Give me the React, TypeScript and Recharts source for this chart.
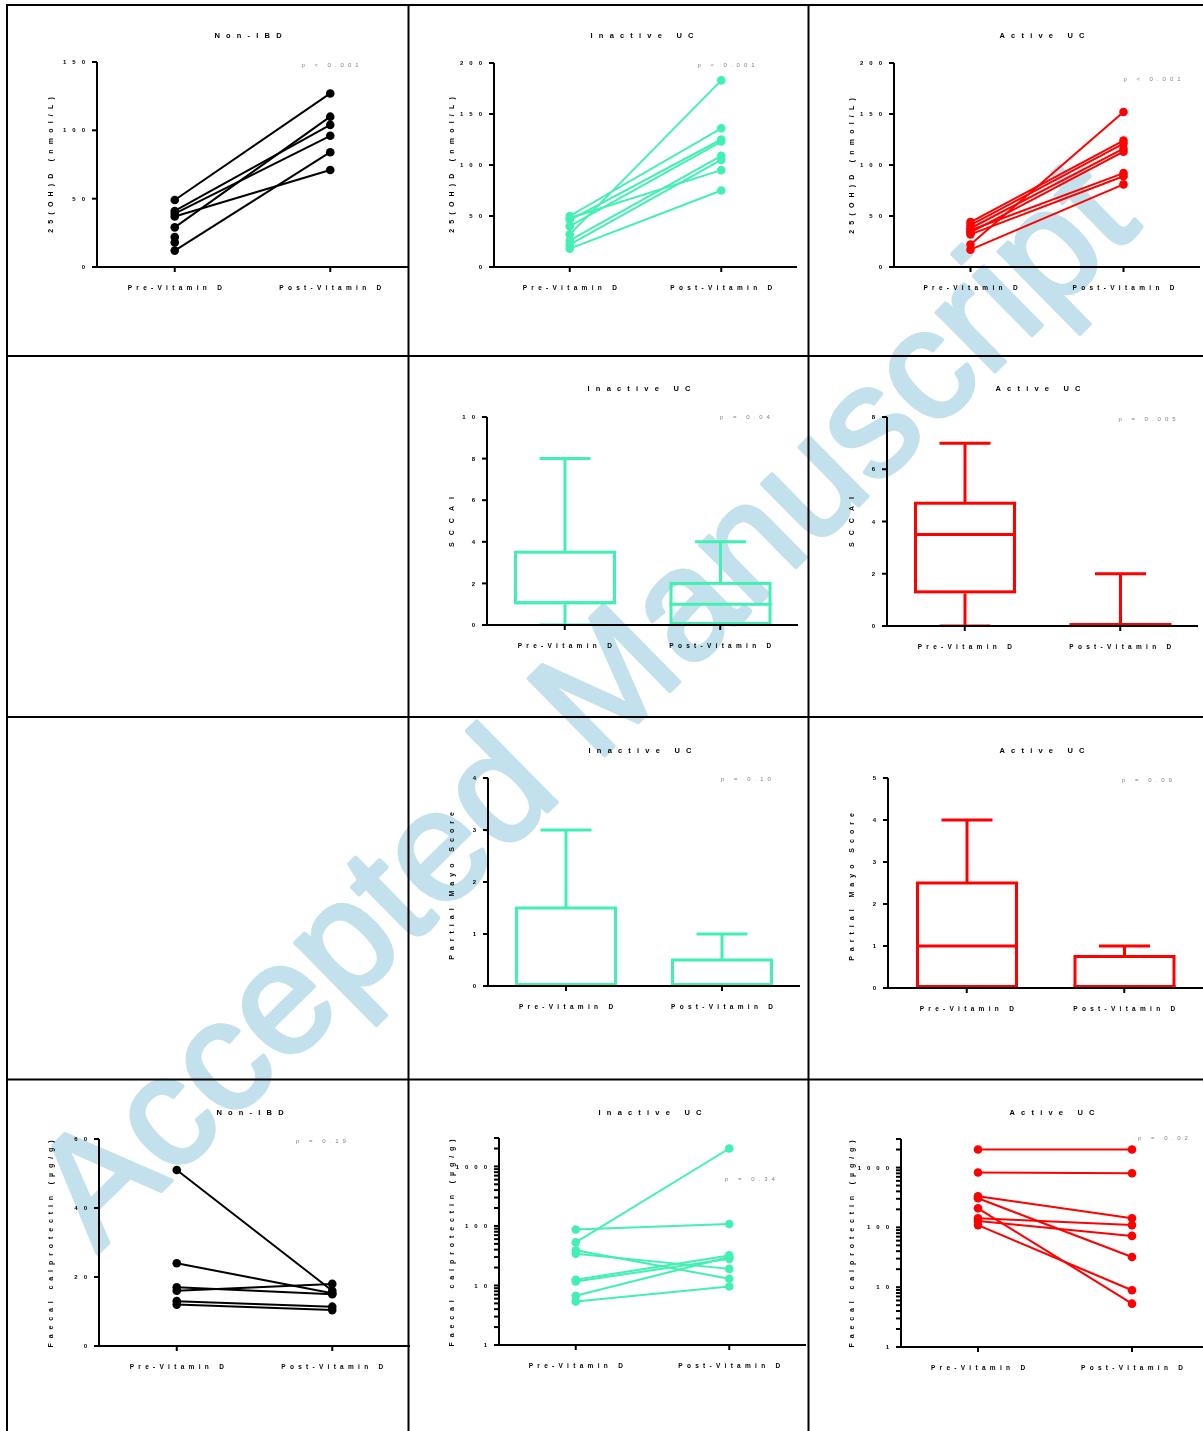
import React from 'react';
import { LineChart, Line, XAxis, YAxis, ComposedChart, Bar } from 'recharts';

const categories = ['Pre-Vitamin D', 'Post-Vitamin D'];

// 25(OH)D (nmol/L), one entry per patient, pre / post
const nonIbdVitDPre = [49, 41, 39, 37, 29, 12, 22, 18];
const nonIbdVitDPost = [127, 104, 96, 71, 110, 84, null, null];
const inactiveVitDPre = [32, 50, 46, 40, 26, 22, 48, 18];
const inactiveVitDPost = [183, 136, 125, 123, 109, 105, 95, 75];
const activeVitDPre = [22, 44, 41, 38, 34, 36, 32, 17];
const activeVitDPost = [152, 124, 121, 116, 113, 92, 89, 81];

// five-number summaries: min, q1, median, q3, max
const sccaiInactivePre = [0, 1, 1, 3.5, 8];
const sccaiInactivePost = [0, 0, 1, 2, 4];
const sccaiActivePre = [0, 1.25, 3.5, 4.7, 7];
const sccaiActivePost = [0, 0, 0, 0, 2];
const mayoInactivePre = [0, 0, 0, 1.5, 3];
const mayoInactivePost = [0, 0, 0, 0.5, 1];
const mayoActivePre = [0, 0, 1, 2.5, 4];
const mayoActivePost = [0, 0, 0, 0.75, 1];

// faecal calprotectin (µg/g)
const nonIbdFcPre = [51, 24, 17, 16, 13, 12];
const nonIbdFcPost = [16, 15.3, 15, 18, 11.4, 10.4];
const inactiveFcPre = [87, 53, 39, 34, 12.5, 11.7, 6.7, 5.4];
const inactiveFcPost = [108, 2000, 13, 19, 32, 28, 30, 9.6];
const activeFcPre = [2000, 825, 330, 306, 208, 142, 128, 109];
const activeFcPost = [2000, 804, 142, 32, 5.3, 109, 72, 8.9];

// axis ticks
const ticksVitD150 = [0, 50, 100, 150];
const ticksVitD200 = [0, 50, 100, 150, 200];
const ticksSccai10 = [0, 2, 4, 6, 8, 10];
const ticksSccai8 = [0, 2, 4, 6, 8];
const ticksMayo4 = [0, 1, 2, 3, 4];
const ticksMayo5 = [0, 1, 2, 3, 4, 5];
const ticksFc60 = [0, 20, 40, 60];
const ticksFcLog = [
  1, 2, 3, 4, 5, 6, 7, 8, 9,
  10, 20, 30, 40, 50, 60, 70, 80, 90,
  100, 200, 300, 400, 500, 600, 700, 800, 900,
  1000, 2000, 3000,
];
const logLabels = [1, 10, 100, 1000];

const GREEN = '#42f0b2';
const RED = '#ff0000';
const BLACK = '#000000';
const WATERMARK = '#c3e1ec';
const FONT = '"Liberation Sans", Arial, sans-serif';
const X_AXIS_H = 30;

type Frame = { left: number; top: number; axisX: number; plotTop: number; plotBottom: number; plotRight: number };

function layout(f: Frame) {
  return {
    width: f.plotRight - f.left,
    height: f.plotBottom - f.top + X_AXIS_H,
    margin: { top: f.plotTop - f.top, right: 0, bottom: 0, left: 0 },
    yWidth: f.axisX - f.left,
  };
}

function YTick(props: any) {
  const { x, y, payload, labels } = props;
  if (labels && !labels.includes(payload.value)) return null;
  return (
    <text x={x + 1} y={y} dy={2.1} textAnchor="end" fill={BLACK}
      style={{ fontFamily: FONT, fontWeight: 700, fontSize: 6, letterSpacing: 6 }}>
      {payload.value}
    </text>
  );
}

function XTick(props: any) {
  const { x, y, payload } = props;
  return (
    <text x={x + 2.2} y={y + 15.5} textAnchor="middle" fill={BLACK}
      style={{ fontFamily: FONT, fontWeight: 700, fontSize: 6.5, letterSpacing: 4.3 }}>
      {payload.value}
    </text>
  );
}

function axes(f: Frame, domain: number[], ticks: number[], log?: boolean) {
  const l = layout(f);
  return [
    <XAxis key="x" dataKey="cat" scale="band" interval={0} height={X_AXIS_H} tickSize={5}
      axisLine={{ stroke: BLACK, strokeWidth: 2 }} tickLine={{ stroke: BLACK, strokeWidth: 2 }}
      tick={(p: any) => <XTick {...p} />} />,
    <YAxis key="y" type="number" width={l.yWidth} domain={domain} ticks={ticks} interval={0}
      scale={log ? 'log' : 'linear'} allowDataOverflow tickSize={5}
      axisLine={{ stroke: BLACK, strokeWidth: 2 }} tickLine={{ stroke: BLACK, strokeWidth: 2 }}
      tick={(p: any) => <YTick {...p} labels={log ? logLabels : null} />} />,
  ];
}

function PairedPanel({ frame, pre, post, color, domain, ticks, log }: any) {
  const data = categories.map((cat, ci) => {
    const row: any = { cat };
    (ci === 0 ? pre : post).forEach((v: number | null, i: number) => { row['s' + i] = v; });
    return row;
  });
  const l = layout(frame);
  return (
    <div style={{ position: 'absolute', left: frame.left, top: frame.top, willChange: 'transform' }}>
      <LineChart width={l.width} height={l.height} data={data} margin={l.margin}>
        {axes(frame, domain, ticks, log)}
        {pre.map((_: number, i: number) => (
          <Line key={i} dataKey={'s' + i} stroke={color} strokeWidth={2} isAnimationActive={false}
            dot={{ r: 4.3, fill: color, stroke: color, strokeWidth: 0 }} activeDot={false} />
        ))}
      </LineChart>
    </div>
  );
}

function BoxShape(props: any) {
  const { x, y, width, height, payload, color } = props;
  const top = Math.min(y, y + height);
  const bottom = Math.max(y, y + height);
  const k = (bottom - top) / (payload.max - payload.min);
  const Y = (v: number) => bottom - (v - payload.min) * k;
  const cx = x + width / 2;
  const cap = width / 4;
  const yq3 = Y(payload.q3);
  const yq1 = Y(payload.q1);
  const flat = yq1 - yq3 < 1;
  const yMed = Math.min(Y(payload.median), yq1 - 1.5);
  return (
    <g stroke={color} strokeWidth={3} fill="none">
      <line x1={cx} x2={cx} y1={yq3} y2={Y(payload.max)} />
      <line x1={cx - cap} x2={cx + cap} y1={Y(payload.max)} y2={Y(payload.max)} />
      <line x1={cx} x2={cx} y1={yq1} y2={Y(payload.min)} />
      <line x1={cx - cap} x2={cx + cap} y1={Y(payload.min)} y2={Y(payload.min)} />
      {flat ? (
        <line x1={x} x2={x + width} y1={yq1 - 1.5} y2={yq1 - 1.5} />
      ) : (
        <rect x={x + 1.5} y={yq3} width={width - 3} height={yq1 - yq3 - 1.5} />
      )}
      {!flat && <line x1={x} x2={x + width} y1={yMed} y2={yMed} />}
    </g>
  );
}

function BoxPanel({ frame, pre, post, color, domain, ticks }: any) {
  const data = categories.map((cat, ci) => {
    const s = ci === 0 ? pre : post;
    return { cat, min: s[0], q1: s[1], median: s[2], q3: s[3], max: s[4] };
  });
  const l = layout(frame);
  return (
    <div style={{ position: 'absolute', left: frame.left, top: frame.top, willChange: 'transform' }}>
      <ComposedChart width={l.width} height={l.height} data={data} margin={l.margin}>
        {axes(frame, domain, ticks)}
        <Bar dataKey={(d: any) => [d.min, d.max]} barSize={102} isAnimationActive={false}
          shape={(p: any) => <BoxShape {...p} color={color} />} />
      </ComposedChart>
    </div>
  );
}

function Watermark() {
  return (
    <svg width={1203} height={1431} style={{ position: 'absolute', left: 0, top: 0 }}>
      <text transform="translate(620,740) rotate(-44.5)" textAnchor="middle" fill={WATERMARK}
        stroke={WATERMARK} strokeWidth={4} strokeLinejoin="round"
        style={{ fontFamily: FONT, fontSize: 157 }}>
        Accepted Manuscript
      </text>
    </svg>
  );
}

function Overlay() {
  const titles: [string, number, number][] = [
    ['Non-IBD', 248, 35], ['Inactive UC', 642, 35], ['Active UC', 1042, 35],
    ['Inactive UC', 639, 388], ['Active UC', 1038, 388],
    ['Inactive UC', 640, 750], ['Active UC', 1042, 750],
    ['Non-IBD', 250, 1112], ['Inactive UC', 650, 1112], ['Active UC', 1052, 1112],
  ];
  const yLabels: [string, number, number, number][] = [
    ['25(OH)D (nmol/L)', 50, 165, 5.2], ['25(OH)D (nmol/L)', 451, 165, 5.2], ['25(OH)D (nmol/L)', 851, 166, 5.2],
    ['SCCAI', 451, 522, 7], ['SCCAI', 851, 522, 7],
    ['Partial Mayo Score', 451, 886, 5], ['Partial Mayo Score', 851, 887, 5],
    ['Faecal calprotectin (µg/g)', 50, 1244, 4.9], ['Faecal calprotectin (µg/g)', 451, 1243, 4.9],
    ['Faecal calprotectin (µg/g)', 851, 1244, 4.9],
  ];
  const pValues: [string, number, number][] = [
    ['p < 0.001', 330, 65], ['p < 0.001', 726, 65], ['p < 0.001', 1152, 79],
    ['p = 0.04', 745, 417], ['p = 0.005', 1147, 419],
    ['p = 0.10', 746, 779], ['p = 0.09', 1147, 780],
    ['p = 0.19', 321, 1141], ['p = 0.34', 750, 1179], ['p = 0.02', 1163, 1138],
  ];
  return (
    <svg width={1203} height={1431} style={{ position: 'absolute', left: 0, top: 0, pointerEvents: 'none', willChange: 'transform' }}>
      <g stroke={BLACK} strokeWidth={2}>
        <line x1={6} x2={1203} y1={5} y2={5} />
        <line x1={7} x2={7} y1={4} y2={1431} />
        <line x1={408.5} x2={408.5} y1={5} y2={1431} />
        <line x1={808.5} x2={808.5} y1={5} y2={1431} />
        <line x1={7} x2={1203} y1={356} y2={356} />
        <line x1={7} x2={1203} y1={717} y2={717} />
        <line x1={7} x2={1203} y1={1079.5} y2={1079.5} />
      </g>
      {titles.map(([t, x, y], i) => (
        <text key={'t' + i} x={x + 3.1} y={y + 2.7} textAnchor="middle" fill={BLACK}
          style={{ fontFamily: FONT, fontWeight: 700, fontSize: 7.5, letterSpacing: 6.2 }}>{t}</text>
      ))}
      {yLabels.map(([t, x, y, ls], i) => (
        <text key={'y' + i} transform={`translate(${x + 2.5},${y}) rotate(-90)`} x={ls / 2} textAnchor="middle" fill={BLACK}
          style={{ fontFamily: FONT, fontWeight: 700, fontSize: 7, letterSpacing: ls }}>{t}</text>
      ))}
      {pValues.map(([t, x, y], i) => (
        <text key={'p' + i} x={x + 2} y={y + 2.2} textAnchor="middle" fill="#808080"
          style={{ fontFamily: FONT, fontSize: 6, letterSpacing: 4 }}>{t}</text>
      ))}
    </svg>
  );
}

export default function App() {
  return (
    <div style={{ position: 'absolute', left: 0, top: 0, width: 1203, height: 1431, overflow: 'hidden', background: '#fff' }}>
      <Watermark />
      <PairedPanel frame={{ left: 7, top: 5, axisX: 97, plotTop: 62, plotBottom: 267, plotRight: 408 }}
        pre={nonIbdVitDPre} post={nonIbdVitDPost} color={BLACK} domain={[0, 150]} ticks={ticksVitD150} />
      <PairedPanel frame={{ left: 409, top: 5, axisX: 494, plotTop: 63, plotBottom: 267, plotRight: 797 }}
        pre={inactiveVitDPre} post={inactiveVitDPost} color={GREEN} domain={[0, 200]} ticks={ticksVitD200} />
      <PairedPanel frame={{ left: 809, top: 5, axisX: 894, plotTop: 63, plotBottom: 267, plotRight: 1200 }}
        pre={activeVitDPre} post={activeVitDPost} color={RED} domain={[0, 200]} ticks={ticksVitD200} />

      <BoxPanel frame={{ left: 409, top: 357, axisX: 487, plotTop: 417, plotBottom: 625, plotRight: 798 }}
        pre={sccaiInactivePre} post={sccaiInactivePost} color={GREEN} domain={[0, 10]} ticks={ticksSccai10} />
      <BoxPanel frame={{ left: 809, top: 357, axisX: 887, plotTop: 417, plotBottom: 626, plotRight: 1198 }}
        pre={sccaiActivePre} post={sccaiActivePost} color={RED} domain={[0, 8]} ticks={ticksSccai8} />

      <BoxPanel frame={{ left: 409, top: 718, axisX: 488, plotTop: 778, plotBottom: 986, plotRight: 800 }}
        pre={mayoInactivePre} post={mayoInactivePost} color={GREEN} domain={[0, 4]} ticks={ticksMayo4} />
      <BoxPanel frame={{ left: 809, top: 718, axisX: 888, plotTop: 778, plotBottom: 988, plotRight: 1203 }}
        pre={mayoActivePre} post={mayoActivePost} color={RED} domain={[0, 5]} ticks={ticksMayo5} />

      <PairedPanel frame={{ left: 7, top: 1080, axisX: 99, plotTop: 1139, plotBottom: 1346, plotRight: 410 }}
        pre={nonIbdFcPre} post={nonIbdFcPost} color={BLACK} domain={[0, 60]} ticks={ticksFc60} />
      <PairedPanel frame={{ left: 409, top: 1080, axisX: 499, plotTop: 1138, plotBottom: 1345, plotRight: 806 }}
        pre={inactiveFcPre} post={inactiveFcPost} color={GREEN} domain={[1, 3000]} ticks={ticksFcLog} log />
      <PairedPanel frame={{ left: 809, top: 1080, axisX: 901, plotTop: 1139, plotBottom: 1347, plotRight: 1209 }}
        pre={activeFcPre} post={activeFcPost} color={RED} domain={[1, 3000]} ticks={ticksFcLog} log />

      <Overlay />
    </div>
  );
}
